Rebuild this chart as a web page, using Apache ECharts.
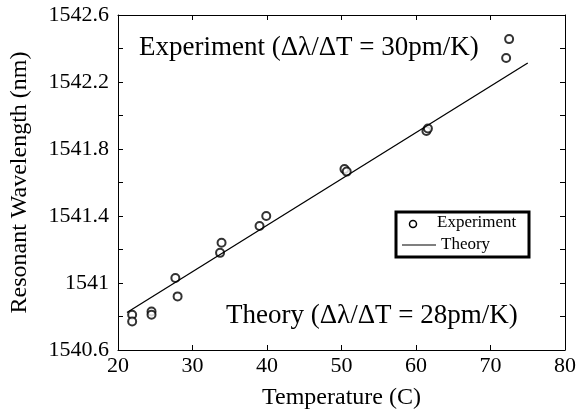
<!DOCTYPE html>
<html>
<head>
<meta charset="utf-8">
<script src="https://cdn.jsdelivr.net/npm/echarts@6/dist/echarts.min.js"></script>
<style>
  html, body { margin: 0; padding: 0; background: #fff; }
  #chart { width: 579px; height: 415px; }
</style>
</head>
<body>
<div id="chart"></div>
<script>
// measured points (temperature in C, wavelength in nm)
var expTemp = [21.9, 21.9, 24.5, 24.5, 27.7, 28.0, 33.7, 33.9, 39.0, 39.9, 50.4, 50.7, 61.4, 61.6, 72.1, 72.5];
var expWave = [1540.81, 1540.77, 1540.83, 1540.81, 1541.03, 1540.92, 1541.18, 1541.24, 1541.34, 1541.40, 1541.68, 1541.665, 1541.907, 1541.922, 1542.343, 1542.456];
// theory line end points
var theoryTemp = [21.2, 75.0];
var theoryWave = [1540.824, 1542.313];

var FONT = 'Liberation Serif';

var expData = expTemp.map(function (t, i) { return [t, expWave[i]]; });
var theoryData = theoryTemp.map(function (t, i) { return [t, theoryWave[i]]; });

var chart = echarts.init(document.getElementById('chart'));

var baseX = {
    type: 'value', min: 20, max: 80, interval: 10,
    axisLine: { show: true, onZero: false, lineStyle: { color: '#000', width: 1 } },
    axisTick: { show: true, inside: true, length: 5, lineStyle: { color: '#000' } },
    splitLine: { show: false }
};
var baseY = {
    type: 'value', min: 1540.6, max: 1542.6, interval: 0.2,
    axisLine: { show: true, onZero: false, lineStyle: { color: '#000', width: 1 } },
    axisTick: { show: true, inside: true, length: 5, lineStyle: { color: '#000' } },
    splitLine: { show: false }
};

chart.setOption({
    animation: false,
    backgroundColor: '#fff',
    grid: { left: 116, right: 11, top: 15, bottom: 63 },
    xAxis: [
        Object.assign({}, baseX, {
            position: 'bottom',
            name: 'Temperature (C)', nameLocation: 'middle', nameGap: 36,
            nameTextStyle: { fontFamily: FONT, fontSize: 24, color: '#000' },
            axisLabel: { fontFamily: FONT, fontSize: 22, color: '#000', margin: 5 }
        }),
        Object.assign({}, baseX, { position: 'top', axisLabel: { show: false } })
    ],
    yAxis: [
        Object.assign({}, baseY, {
            position: 'left',
            name: 'Resonant Wavelength (nm)', nameLocation: 'middle', nameGap: 86,
            nameTextStyle: { fontFamily: FONT, fontSize: 24, color: '#000' },
            axisLabel: {
                fontFamily: FONT, fontSize: 22, color: '#000', margin: 9,
                formatter: function (v, i) {
                    return i % 2 === 0 ? String(Math.round(v * 10) / 10) : '';
                }
            }
        }),
        Object.assign({}, baseY, { position: 'right', axisLabel: { show: false } })
    ],
    series: [
        {
            name: 'Experiment', type: 'scatter', data: expData,
            symbol: 'emptyCircle', symbolSize: 8,
            itemStyle: { color: '#000', borderColor: '#000', borderWidth: 1.2 }
        },
        {
            name: 'Theory', type: 'line', data: theoryData,
            symbol: 'none', lineStyle: { color: '#000', width: 1.3 }
        }
    ],
    graphic: [
        {
            type: 'text', left: 139, top: 34,
            style: { text: 'Experiment (\u0394\u03bb/\u0394T = 30pm/K)', fontFamily: FONT, fontSize: 27, fill: '#000' }
        },
        {
            type: 'text', left: 226, top: 302,
            style: { text: 'Theory (\u0394\u03bb/\u0394T = 28pm/K)', fontFamily: FONT, fontSize: 27, fill: '#000' }
        },
        // legend box
        {
            type: 'rect', shape: { x: 396, y: 212, width: 133, height: 45 },
            style: { fill: '#fff', stroke: '#000', lineWidth: 3 }, z: 10
        },
        {
            type: 'circle', shape: { cx: 413, cy: 224, r: 3.5 },
            style: { fill: 'none', stroke: '#000', lineWidth: 1.5 }, z: 11
        },
        {
            type: 'line', shape: { x1: 402, y1: 245, x2: 436, y2: 245 },
            style: { stroke: '#000', lineWidth: 1.2 }, z: 11
        },
        {
            type: 'text', x: 437, y: 223, z: 11,
            style: { text: 'Experiment', fontFamily: FONT, fontSize: 17, fill: '#000', verticalAlign: 'middle' }
        },
        {
            type: 'text', x: 441, y: 245, z: 11,
            style: { text: 'Theory', fontFamily: FONT, fontSize: 17, fill: '#000', verticalAlign: 'middle' }
        }
    ]
});
</script>
</body>
</html>
